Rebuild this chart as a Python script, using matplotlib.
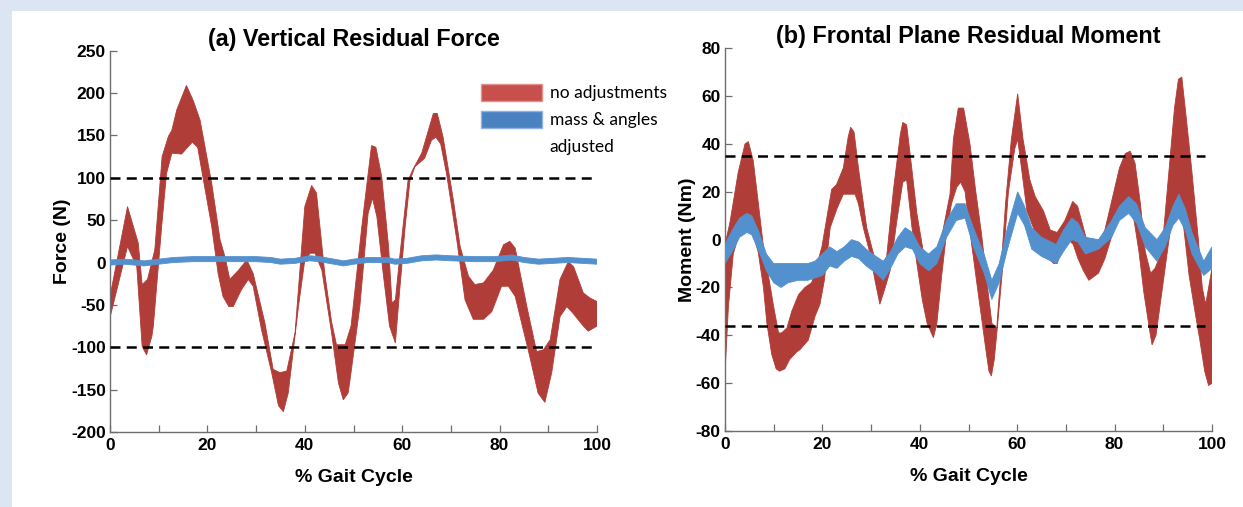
import numpy as np
import matplotlib.pyplot as plt
from matplotlib.patches import Patch, Rectangle

plt.rcParams['font.family'] = ['Liberation Sans', 'DejaVu Sans']
plt.rcParams['axes.unicode_minus'] = False

# ---- (a) vertical residual force (N) vs % gait cycle ----
force_red_up_x = [0, 3.6, 5.8, 6.6, 7.7, 9.2, 10.7, 12.0, 12.7, 13.7, 15.7, 17.1, 18.5, 20.9, 22.6, 23.6,
                  24.6, 26.4, 28.1, 29.4, 31.8, 33.5, 34.9, 36.3, 38.0, 40.0, 41.4, 42.4, 44.1, 45.5, 46.5,
                  48.3, 49.5, 51.7, 53.7, 54.6, 55.8, 57.2, 57.9, 58.6, 59.5, 61.2, 62.3, 64.0, 66.4, 67.2,
                  68.4, 70.5, 71.9, 73.6, 74.9, 76.7, 78.7, 80.8, 82.1, 83.2, 85.6, 87.6, 89.0, 90.4, 92.4,
                  94.1, 95.2, 97.2, 98.6, 100]
force_red_up = [-40, 66, 23, -26, -20, 15, 125, 149, 156, 180, 209, 191, 168, 93, 27, 7,
                -20, -9, 3, -13, -71, -126, -130, -128, -83, 66, 91, 82, -13, -70, -97,
                -97, -75, 42, 138, 136, 101, 19, -48, -44, 7, 97, 111, 129, 176, 176,
                148, 74, 19, -16, -26, -24, -9, 21, 25, 17, -52, -105, -103, -91, -20,
                1, -5, -36, -42, -46]
force_red_lo_x = [0, 3.6, 5.5, 6.6, 7.5, 8.6, 8.9, 10.6, 11.6, 12.7, 14.7, 16.1, 16.9, 18.0, 19.2, 20.9,
                  22.2, 23.2, 24.4, 25.3, 27.0, 28.4, 29.4, 31.1, 33.2, 34.6, 35.6, 36.6, 38.7, 40.0, 41.1,
                  42.1, 43.5, 45.5, 46.9, 47.9, 48.9, 49.3, 51.3, 53.0, 53.9, 54.8, 56.1, 57.4, 58.6, 59.5,
                  60.6, 61.6, 62.6, 64.6, 66.0, 66.9, 67.9, 69.1, 71.2, 72.9, 74.6, 76.7, 78.4, 80.4, 81.8,
                  83.2, 86.2, 87.9, 89.3, 90.7, 92.4, 93.8, 94.8, 97.2, 98.2, 100]
force_red_lo = [-65, 19, -5, -99, -109, -87, -75, 42, 105, 129, 128, 137, 142, 136, 97, 42,
                -13, -40, -52, -52, -32, -20, -28, -79, -130, -169, -176, -154, -52, 3, 11,
                11, -9, -83, -142, -162, -154, -138, -52, 58, 76, 54, -13, -75, -95, -32,
                42, 97, 113, 123, 144, 148, 140, 105, 27, -44, -67, -67, -58, -28, -28,
                -40, -111, -154, -165, -130, -64, -52, -58, -75, -81, -75]
force_blue_x = [0, 3, 5, 7, 10, 13, 17, 20, 25, 30, 33, 35, 38, 41, 43, 45, 48, 50, 53, 57, 58.5,
                61, 64, 67, 70, 75, 79, 82.5, 85, 88, 91, 94, 97, 100]
force_blue_up = [3, 4, 3, 2, 4, 6, 7, 7, 7, 7, 6, 4, 5, 8, 7, 5, 2, 4, 6, 6, 4,
                 5, 8, 9, 8, 7, 7, 9, 6, 4, 5, 6, 5, 4]
force_blue_lo = [-3, -2, -3, -4, -2, 0, 1, 1, 1, 1, 0, -2, -1, 2, 1, -1, -4, -2, 0, 0, -2,
                 -1, 2, 3, 2, 1, 1, 3, 0, -2, -1, 0, -1, -2]
force_limits = [100, -100]

# ---- (b) frontal plane residual moment (Nm) vs % gait cycle ----
moment_red_up_x = [0, 1.0, 2.7, 4.1, 4.8, 5.8, 6.8, 7.9, 8.6, 9.9, 11.0, 11.6, 12.7, 13.7, 15.1, 16.4,
                   17.8, 18.8, 19.9, 20.9, 21.9, 22.9, 24.3, 25.3, 25.8, 26.5, 27.4, 29.1, 30.5, 31.8, 33.2,
                   34.6, 36.0, 36.5, 37.3, 38.4, 39.4, 40.8, 42.1, 43.2, 44.2, 46.2, 46.9, 47.9, 49.0, 50.3,
                   51.5, 52.7, 53.8, 54.8, 55.8, 56.6, 57.6, 58.8, 60.1, 61.2, 62.6, 63.7, 65.4, 66.8, 68.2,
                   69.8, 71.4, 72.4, 73.6, 74.9, 76.7, 78.0, 79.5, 81.0, 82.2, 83.2, 84.2, 85.3, 86.3, 87.4,
                   88.3, 89.7, 91.0, 92.3, 93.1, 93.8, 94.5, 95.8, 97.2, 98.0, 98.7, 100]
moment_red_up = [-2, 7, 28, 40, 41, 33, 16, -3, -11, -27, -39, -39, -37, -30, -23, -20,
                 -18, -11, -3, 9, 21, 23, 30, 43, 47, 45, 30, 5, -6, -14, -7,
                 21, 44, 49, 48, 29, 11, -6, -13, -10, -2, 19, 42, 55, 55, 40,
                 20, 2, -18, -35, -37, -15, 15, 42, 61, 42, 25, 18, 12, 4, 3,
                 8, 16, 14, 5, -5, -3, 4, 17, 30, 36, 37, 32, 15, -5, -14,
                 -12, -5, 25, 55, 67, 68, 55, 30, 0, -20, -27, -12]
moment_red_lo_x = [0, 0.7, 1.7, 2.7, 3.8, 4.8, 5.8, 6.8, 7.9, 8.6, 9.6, 10.5, 11.2, 12.3, 13.3, 14.7,
                   15.4, 17.1, 18.5, 19.5, 20.4, 21.6, 23.0, 24.3, 26.7, 27.4, 28.4, 29.8, 30.8, 31.8, 32.9,
                   33.9, 35.3, 36.5, 37.3, 38.4, 39.4, 40.5, 41.5, 42.8, 43.5, 44.5, 45.5, 46.5, 47.6, 48.4,
                   49.3, 50.0, 51.5, 52.5, 53.5, 54.2, 54.7, 55.3, 56.0, 57.0, 58.2, 59.5, 60.1, 61.0, 62.0,
                   63.5, 65.0, 66.5, 67.5, 68.2, 69.5, 70.5, 71.5, 72.5, 73.6, 74.7, 76.7, 78.0, 79.5, 80.8,
                   82.1, 83.0, 84.0, 85.0, 86.0, 87.2, 87.7, 88.5, 89.5, 90.5, 91.5, 92.5, 93.3, 94.2, 95.3,
                   96.5, 97.5, 98.5, 99.3, 100]
moment_red_lo = [-56, -28, -6, 1, 3, 4, 2, -5, -20, -35, -48, -54, -55, -54, -50, -47,
                 -46, -42, -32, -27, -17, 5, 13, 19, 19, 15, 5, -6, -17, -27, -20,
                 -13, 8, 24, 25, 5, -10, -25, -35, -41, -35, -15, 3, 15, 22, 24,
                 20, 8, -15, -30, -45, -55, -57, -50, -35, -12, 20, 38, 42, 28, 12,
                 4, -2, -8, -10, -10, -2, 0, -2, -8, -13, -17, -14, -8, 2, 11,
                 12, 13, 8, -5, -22, -38, -44, -40, -25, -10, 5, 10, 12, 5, -15,
                 -30, -42, -55, -61, -60]
moment_blue_x = [0, 1.5, 3, 4.5, 5.5, 7, 8.5, 10, 11.5, 13, 15, 17, 18.5, 20, 21.5, 23, 24.5, 26,
                 27.5, 29, 31, 32.5, 34, 35.5, 37, 38.5, 40, 41.8, 43.5, 45.5, 47.5, 49.3, 51, 53.2,
                 54.8, 56.3, 58, 60.1, 61.5, 63, 65, 68, 69.5, 71.2, 72.5, 74, 76.7, 79.4, 81, 82.9,
                 84.5, 86.3, 88.7, 90.4, 92, 93.2, 94.5, 95.9, 98.3, 100]
moment_blue_up = [-2, 4, 9, 11, 10, 3, -6, -10, -10, -10, -10, -10, -9, -6, -3, -5, -3, 0,
                  -1, -4, -7, -9, -5, 1, 5, 3, -3, -6, -3, 8, 15, 15, 5, -6,
                  -17, -10, 5, 20, 14, 5, 1, -2, 4, 9, 7, 1, 0, 8, 14, 18,
                  15, 5, 0, 5, 14, 19, 13, 3, -9, -3]
moment_blue_lo = [-10, -5, 1, 3, 2, -5, -13, -18, -20, -18, -17, -17, -16, -15, -11, -12, -9, -7,
                  -8, -11, -14, -17, -12, -6, -3, -4, -10, -13, -10, 1, 8, 9, -3, -14,
                  -25, -18, -4, 11, 6, -4, -7, -10, -5, 0, -1, -6, -4, 1, 8, 11,
                  7, -3, -9, -3, 6, 9, 4, -6, -15, -12]
moment_limits = [35, -36]

RED = '#b13d38'
BLUE = '#5391ce'
W, H = 1243, 507

fig = plt.figure(figsize=(W / 100, H / 100), dpi=100, facecolor='#dce6f2')
fig.add_artist(Rectangle((12 / W, 0), 1, 1 - 11 / H, transform=fig.transFigure,
                         facecolor='white', edgecolor='none', zorder=-10))

ax1 = fig.add_axes([110 / W, 1 - 432 / H, 487 / W, 381.3 / H])
ax2 = fig.add_axes([725 / W, 1 - 431 / H, 487 / W, 382.7 / H])


def band(ax, ux, uy, lx, ly, color, z):
    xs = np.r_[np.array(ux), np.array(lx)[::-1]]
    ys = np.r_[np.array(uy), np.array(ly)[::-1]]
    ax.fill(xs, ys, color=color, lw=0.6, ec=color, zorder=z)


def style(ax, ylim, ystep, ylabel, title):
    ax.set_facecolor('none')
    for s in ['top', 'right']:
        ax.spines[s].set_visible(False)
    for s in ['left', 'bottom']:
        ax.spines[s].set_color('#6e6e6e')
        ax.spines[s].set_linewidth(1.0)
    ax.set_xlim(0, 100)
    ax.set_ylim(*ylim)
    ax.set_xticks(range(0, 101, 20))
    ax.set_xticks(range(10, 100, 20), minor=True)
    ax.set_yticks(range(ylim[0], ylim[1] + 1, ystep))
    ax.tick_params(which='both', direction='in', length=5, width=0.9, color='#6e6e6e')
    ax.tick_params(axis='x', pad=4, labelsize=12.5)
    ax.tick_params(axis='y', pad=3, labelsize=12.5)
    for lab in ax.get_xticklabels() + ax.get_yticklabels():
        lab.set_fontweight('bold')
    ax.set_xlabel('% Gait Cycle', fontsize=14, fontweight='bold', labelpad=12)
    ax.set_ylabel(ylabel, fontsize=14, fontweight='bold', labelpad=0)
    ax.set_title(title, fontsize=16.8, fontweight='bold', pad=3)


band(ax1, force_red_up_x, force_red_up, force_red_lo_x, force_red_lo, RED, 2)
band(ax1, force_blue_x, force_blue_up, force_blue_x, force_blue_lo, BLUE, 3)
for lim in force_limits:
    ax1.hlines(lim, 0, 99, colors='k', linestyles=(0, (4, 2.5)), lw=1.8, zorder=4)
style(ax1, (-200, 250), 50, 'Force (N)', '(a) Vertical Residual Force')

band(ax2, moment_red_up_x, moment_red_up, moment_red_lo_x, moment_red_lo, RED, 2)
band(ax2, moment_blue_x, moment_blue_up, moment_blue_x, moment_blue_lo, BLUE, 3)
for lim in moment_limits:
    ax2.hlines(lim, 0, 98.5, colors='k', linestyles=(0, (4, 2.5)), lw=1.8, zorder=4)
style(ax2, (-80, 80), 20, 'Moment (Nm)', '(b) Frontal Plane Residual Moment')

handles = [Patch(facecolor='#c8504c', edgecolor='#e2908c'),
           Patch(facecolor='#4a81c1', edgecolor='#8fb2dc'),
           Patch(visible=False)]
labels = ['no adjustments', 'mass & angles', 'adjusted']
ax1.legend(handles, labels, loc='upper left', bbox_to_anchor=(0.762, 0.912), frameon=False,
           handlelength=3.5, handleheight=1.1, handletextpad=0.45, labelspacing=0.55,
           borderpad=0, borderaxespad=0, prop={'family': ['Lato', 'DejaVu Sans'], 'size': 12.5})

fig.savefig('out.png', dpi=100, facecolor=fig.get_facecolor())
